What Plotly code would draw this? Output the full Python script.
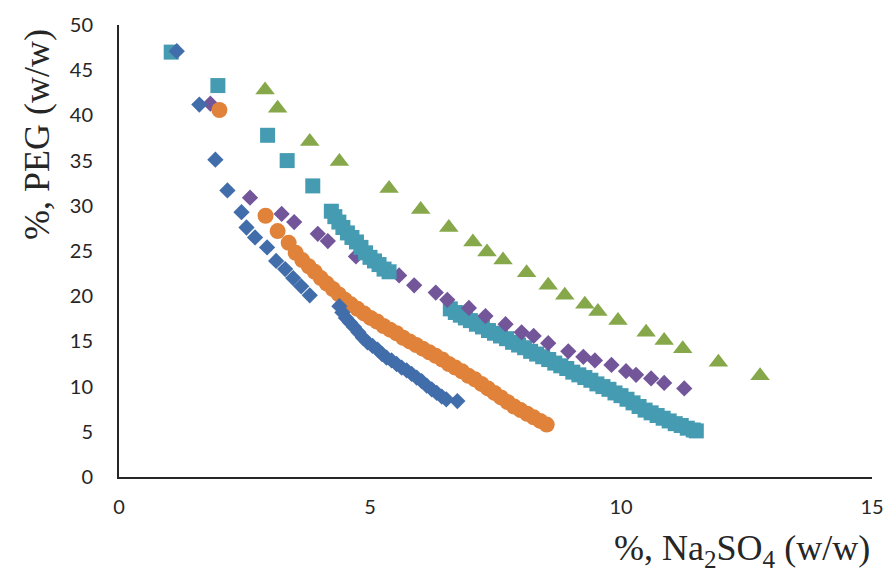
import plotly.graph_objects as go

# ---- data ----
blue_x = [1.15, 1.60, 1.92, 2.16, 2.44, 2.54, 2.71, 2.95, 3.13, 3.31, 3.47, 3.63, 3.80,
          4.39, 4.45, 4.52, 4.60, 4.68, 4.77, 4.86, 4.95, 5.05, 5.15, 5.24, 5.33, 5.43,
          5.53, 5.63, 5.73, 5.83, 5.93, 6.03, 6.13, 6.23, 6.33, 6.43, 6.52, 6.74]
blue_y = [47.1, 41.2, 35.1, 31.7, 29.3, 27.6, 26.5, 25.4, 23.9, 23.0, 22.0, 21.1, 20.1,
          18.9, 18.2, 17.6, 17.1, 16.6, 16.0, 15.4, 14.9, 14.5, 14.1, 13.6, 13.2, 12.9,
          12.5, 12.1, 11.8, 11.4, 11.0, 10.6, 10.1, 9.7, 9.3, 8.9, 8.6, 8.4]

orange_x = [2.00, 2.92, 3.16, 3.38, 3.52, 3.65, 3.78, 3.90, 4.02, 4.14, 4.26, 4.38, 4.50,
            4.62, 4.75, 4.88, 5.01, 5.14, 5.27, 5.40, 5.53, 5.66, 5.79, 5.92, 6.05, 6.18,
            6.31, 6.44, 6.57, 6.70, 6.83, 6.96, 7.09, 7.22, 7.35, 7.48, 7.61, 7.74, 7.87,
            8.00, 8.13, 8.26, 8.39, 8.52]
orange_y = [40.6, 28.9, 27.2, 25.9, 24.8, 24.0, 23.3, 22.7, 22.0, 21.4, 20.8, 20.2, 19.6,
            19.1, 18.6, 18.1, 17.6, 17.2, 16.7, 16.3, 15.9, 15.4, 15.0, 14.6, 14.2, 13.8,
            13.4, 13.0, 12.5, 12.1, 11.7, 11.2, 10.8, 10.3, 9.8, 9.3, 8.8, 8.3, 7.8,
            7.4, 7.0, 6.6, 6.2, 5.8]

purple_x = [1.82, 2.61, 3.24, 3.49, 3.96, 4.16, 4.72, 5.20, 5.58, 5.88, 6.31, 6.54, 6.97,
            7.30, 7.70, 8.02, 8.26, 8.55, 8.95, 9.25, 9.48, 9.81, 10.10, 10.30, 10.60,
            10.86, 11.26]
purple_y = [41.3, 30.9, 29.1, 28.2, 26.9, 26.1, 24.4, 23.2, 22.3, 21.2, 20.4, 19.6, 18.7,
            17.8, 16.9, 16.0, 15.6, 14.8, 13.9, 13.3, 12.9, 12.4, 11.7, 11.3, 10.9,
            10.4, 9.8]

teal_upper_x = [1.04, 1.97, 2.96, 3.35, 3.86, 4.23, 4.30, 4.38, 4.46, 4.55, 4.64, 4.73,
                4.82, 4.91, 5.00, 5.09, 5.18, 5.28, 5.38]
teal_upper_y = [47.0, 43.3, 37.8, 35.0, 32.2, 29.4, 28.8, 28.2, 27.6, 27.0, 26.5, 26.0,
                25.4, 24.8, 24.3, 23.9, 23.5, 23.0, 22.7]

teal_lower_x = [6.60, 6.70, 6.80, 6.90, 7.00, 7.12, 7.24, 7.36, 7.48, 7.60, 7.72, 7.84,
                7.96, 8.08, 8.20, 8.32, 8.44, 8.56, 8.68, 8.80, 8.92, 9.04, 9.16, 9.28,
                9.40, 9.52, 9.64, 9.76, 9.88, 10.00, 10.12, 10.24, 10.36, 10.48, 10.60,
                10.72, 10.84, 10.96, 11.08, 11.20, 11.32, 11.44, 11.50]
teal_lower_y = [18.6, 18.2, 17.9, 17.6, 17.3, 16.9, 16.6, 16.2, 15.9, 15.6, 15.3, 14.9,
                14.6, 14.3, 13.9, 13.6, 13.3, 13.0, 12.6, 12.3, 12.0, 11.6, 11.3, 11.0,
                10.7, 10.3, 10.0, 9.7, 9.3, 9.0, 8.6, 8.2, 7.8, 7.4, 7.1,
                6.8, 6.5, 6.2, 5.9, 5.7, 5.4, 5.2, 5.1]

green_x = [2.91, 3.16, 3.80, 4.39, 5.38, 6.01, 6.57, 7.05, 7.33, 7.65, 8.12, 8.55, 8.88,
           9.28, 9.54, 9.94, 10.50, 10.86, 11.23, 11.94, 12.77]
green_y = [42.8, 40.8, 37.1, 34.9, 31.9, 29.6, 27.6, 26.0, 24.9, 24.0, 22.6, 21.2, 20.1,
           19.1, 18.3, 17.3, 16.0, 15.1, 14.2, 12.7, 11.2]

x_ticks = [0, 5, 10, 15]
y_ticks = [0, 5, 10, 15, 20, 25, 30, 35, 40, 45, 50]

BLUE = "#416EAA"
ORANGE = "#E0823A"
PURPLE = "#73569A"
TEAL = "#459BB1"
GREEN = "#86A84B"

fig = go.Figure()

def add(x, y, color, symbol, size):
    fig.add_trace(go.Scatter(x=x, y=y, mode="markers", showlegend=False,
                             marker=dict(color=color, symbol=symbol, size=size,
                                         line=dict(width=0))))

add(teal_lower_x, teal_lower_y, TEAL, "square", 15)
add(purple_x, purple_y, PURPLE, "diamond", 12.5)
add(teal_upper_x, teal_upper_y, TEAL, "square", 15)
add(orange_x, orange_y, ORANGE, "circle", 16)
add(blue_x, blue_y, BLUE, "diamond", 12.5)
add(green_x, green_y, GREEN, "triangle-up", 17)

tick_font = dict(family="Lato, Open Sans, sans-serif", size=20, color="#262626")

fig.update_layout(
    width=896, height=578,
    margin=dict(l=119, r=19, t=17, b=101),
    paper_bgcolor="white", plot_bgcolor="white",
    xaxis=dict(range=[0, 15], tickvals=x_ticks, ticktext=[str(v) for v in x_ticks],
               showgrid=False, zeroline=False, showline=True, linecolor="#262626",
               linewidth=2, ticks="outside", ticklen=11, tickcolor="rgba(0,0,0,0)",
               tickfont=tick_font),
    yaxis=dict(range=[0, 50], tickvals=y_ticks, ticktext=[str(v) for v in y_ticks],
               showgrid=False, zeroline=False, showline=True, linecolor="#262626",
               linewidth=2, ticks="outside", ticklen=20, tickcolor="rgba(0,0,0,0)",
               tickfont=tick_font),
    annotations=[
        dict(text="%, Na<sub>2</sub>SO<sub>4</sub> (w/w)", xref="paper", yref="paper",
             x=1.0, y=-0.163, xanchor="right", yanchor="middle", showarrow=False,
             font=dict(family="Liberation Serif, Times New Roman, serif", size=36,
                       color="#262626")),
        dict(text="%, PEG (w/w)", xref="paper", yref="paper",
             x=-0.108, y=0.758, xanchor="center", yanchor="middle", textangle=-90,
             showarrow=False,
             font=dict(family="Liberation Serif, Times New Roman, serif", size=36,
                       color="#262626")),
    ],
)

fig.write_html("out.html")
